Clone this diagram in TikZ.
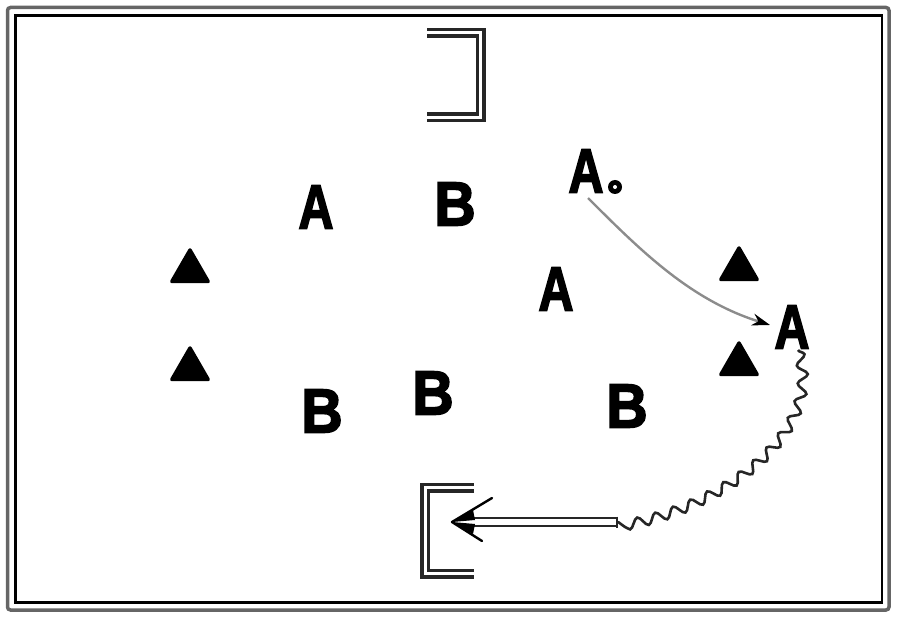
\documentclass[tikz,border=0pt]{standalone}
\usepackage{fontspec}
\usepackage{graphicx}
\setmainfont{Liberation Sans}
\newfontfamily\heavy{Liberation Sans}[BoldFeatures={FakeBold=3}]
\usetikzlibrary{decorations.pathmorphing,arrows.meta,shapes.geometric}
\tikzset{
  lbl/.style={inner sep=0pt, font=\heavy\bfseries\fontsize{62}{66}\selectfont},
  cone/.style={regular polygon, regular polygon sides=3, fill=black, draw=black, line width=3.5pt, line join=round, minimum size=42pt, inner sep=0pt},
  goal/.style={line width=3.5pt, draw=black!85, double=white, double distance=3pt},
  pass/.style={draw=black!45, line width=2.4pt},
  dribble/.style={draw=black!85, line width=2.6pt, decorate, decoration={snake, segment length=19pt, amplitude=5pt}},
}
\begin{document}
\begin{tikzpicture}[x=1pt,y=-1pt]
\useasboundingbox (0,0) rectangle (900,620);
% frame
\draw[black!60, line width=3.5pt, rounded corners=3pt] (7.5,7.5) rectangle (889,610);
\draw[black, line width=2.4pt] (15.5,15.5) rectangle (882,602.5);
% goals
\draw[goal] (427,33) -- (480.5,33) -- (480.5,117.5) -- (427,117.5);
\draw[goal] (474,487.5) -- (425,487.5) -- (425,573.5) -- (474,573.5);
% letters
\node[lbl] (A1) at (316,207) {\scalebox{0.78}[1]{A}};
\node[lbl] (B1) at (455,204) {\scalebox{0.92}[1]{B}};
\node[lbl] (A0) at (586,171) {\scalebox{0.78}[1]{A}};
\node[circle, fill=black, minimum size=14pt, inner sep=0pt] (ball) at (615,187) {};
\node[circle, fill=white, minimum size=4pt, inner sep=0pt] at (ball) {};
\node[lbl] (A2) at (556,289) {\scalebox{0.78}[1]{A}};
\node[lbl] (A3) at (792,327) {\scalebox{0.78}[1]{A}};
\node[lbl] (B2) at (322,411) {\scalebox{0.92}[1]{B}};
\node[lbl] (B3) at (433,393) {\scalebox{0.92}[1]{B}};
\node[lbl] (B4) at (627,406) {\scalebox{0.92}[1]{B}};
% cones
\node[cone] (c1) at (190,271) {};
\node[cone] (c2) at (190,369) {};
\node[cone] (c3) at (739,269) {};
\node[cone] (c4) at (739,364) {};
% pass
\coordinate (ps) at (588,198);
\coordinate (pe) at (770,325);
\draw[pass, -{Stealth[length=18pt, width=12pt, black]}] (ps) .. controls (640,250) and (690,300) .. (pe);
% dribble
\coordinate (ds) at (798,350);
\coordinate (de) at (617,522);
\draw[dribble] (ds) .. controls (822,430) and (720,505) .. (de);
% hollow arrow
\coordinate (at) at (452,522);
\draw[black!85, line width=2.4pt, double=white, double distance=6pt] (de) -- (468,522);
\draw[black!85, line width=2.4pt] (de) ++(0,-5.5) -- ++(0,11);
\draw[black, line width=2.4pt, line cap=round, line join=round] (492,498) -- (at) -- (482,541);
\fill[black] (at) -- (473,510) -- (475,520) -- cycle;
\fill[black] (at) -- (473,534) -- (475,524) -- cycle;
\end{tikzpicture}
\end{document}
